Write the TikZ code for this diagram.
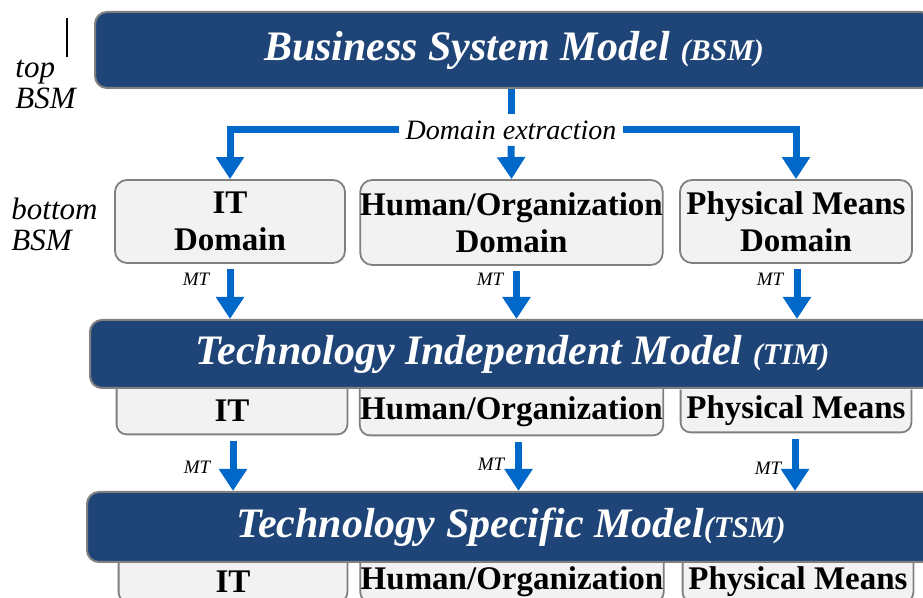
\documentclass[tikz,border=0pt]{standalone}
\usepackage{fontspec}
\setmainfont{Liberation Serif}
\usetikzlibrary{arrows.meta, positioning, backgrounds}
\definecolor{bandblue}{RGB}{31,69,120}
\definecolor{flowblue}{RGB}{0,104,201}
\definecolor{boxgray}{RGB}{242,242,242}
\definecolor{edgegray}{RGB}{128,128,128}
\tikzset{
  band/.style={draw=edgegray, line width=1pt, fill=bandblue, rounded corners=6pt, text=white,
    font=\fontsize{21}{24}\selectfont\bfseries\itshape}, % the three dark model bars
  domainbox/.style={draw=edgegray, line width=0.9pt, fill=boxgray, rounded corners=6pt,
    align=center, inner sep=0pt, font=\fontsize{16.5}{18.5}\selectfont\bfseries},
  sublabel/.style={inner sep=0pt, font=\fontsize{16.5}{18.5}\selectfont\bfseries},
  subbox/.style={draw=edgegray, line width=0.9pt, fill=boxgray, rounded corners=5pt},
  flow/.style={draw=flowblue, line width=3.5pt, -{Triangle[width=13.5pt,length=11pt]}},
  flowline/.style={draw=flowblue, line width=3.5pt},
  mt/.style={font=\fontsize{9.5}{10}\selectfont\itshape, inner sep=0pt},
  side/.style={font=\fontsize{15.5}{15.5}\selectfont\itshape, align=left, inner sep=0pt, anchor=west},
}

\begin{document}
\begin{tikzpicture}[x=0.5pt, y=-0.5pt]
    \useasboundingbox (0,0) rectangle (923,598);
    \clip (0,0) rectangle (923,598);

    % model bars
    \node[band, minimum width=419pt, minimum height=38pt] (bsm) at (514,50)
        {Business System Model {\fontsize{15}{18}\selectfont(BSM)}};
    \node[band, minimum width=422.5pt, minimum height=34pt] (tim) at (512.5,354)
        {Technology Independent Model {\fontsize{15}{18}\selectfont(TIM)}};
    \node[band, minimum width=424pt, minimum height=35pt] (tsm) at (511,527)
        {Technology Specific Model{\fontsize{15}{18}\selectfont(TSM)}};

    % side labels
    \node[side] (topLbl) at (15,84) {top\\BSM};
    \node[side] (botLbl) at (11,224) {bottom\\BSM};
    \coordinate (tick) at (67,18);
    \draw[line width=0.8pt] (tick) -- ++(0,39);

    % bottom BSM domains
    \node[domainbox, minimum width=115pt, minimum height=41.5pt] (itD) at (230,221.5) {IT\\Domain};
    \node[domainbox, minimum width=148.5pt, minimum height=42.5pt] (humD) at (511.5,222.5) {Human/Organization\\Domain};
    \node[domainbox, minimum width=116pt, minimum height=41.5pt] (phyD) at (796,221.5) {Physical Means\\Domain};

    % parts hanging under TIM and TSM
    \node[sublabel, minimum width=115pt, minimum height=23pt] (itT) at (232,411) {IT};
    \node[sublabel, minimum width=148.5pt, minimum height=23.5pt] (humT) at (511.5,411.5) {Human/Organization};
    \node[sublabel, minimum width=115pt, minimum height=21pt] (phyT) at (796,411) {Physical Means};
    \node[sublabel, minimum width=114pt, minimum height=20pt] (itS) at (233,582) {IT};
    \node[sublabel, minimum width=148pt, minimum height=20pt] (humS) at (512,582) {Human/Organization};
    \node[sublabel, minimum width=115pt, minimum height=20pt] (phyS) at (798,582) {Physical Means};
    \begin{scope}[on background layer]
        \foreach \n in {itT,humT,phyT,itS,humS,phyS}
            \draw[subbox] (\n.north west) -- (\n.south west) -- (\n.south east) -- (\n.north east);
    \end{scope}

    % domain extraction
    \node[font=\fontsize{14}{16}\selectfont\itshape, inner sep=3pt] (ext) at (511,130) {Domain extraction};
    \draw[flowline] (bsm.south -| ext.north) -- (ext.north);
    \draw[flow] (ext.west) -| (itD.north);
    \draw[flow] (ext.south) -- (humD.north);
    \draw[flow] (ext.east) -| (phyD.north);

    % model transformations
    \foreach \a/\dx in {itD/0pt, humD/2.5pt, phyD/0.5pt}
        \draw[flow] ([xshift=\dx, yshift=-2.5pt]\a.south) -- ([xshift=\dx]\a.south |- tim.north);
    \foreach \a/\dx in {itT/0.5pt, humT/3.5pt, phyT/-0.5pt}
        \draw[flow] ([xshift=\dx, yshift=-3.5pt]\a.south) -- ([xshift=\dx]\a.south |- tsm.north);
    \node[mt] (mt1) at (196,279) {MT};
    \node[mt] (mt2) at (490,279) {MT};
    \node[mt] (mt3) at (770,279) {MT};
    \node[mt] (mt4) at (197,467) {MT};
    \node[mt] (mt5) at (491,464) {MT};
    \node[mt] (mt6) at (768,468) {MT};

\end{tikzpicture}
\end{document}
